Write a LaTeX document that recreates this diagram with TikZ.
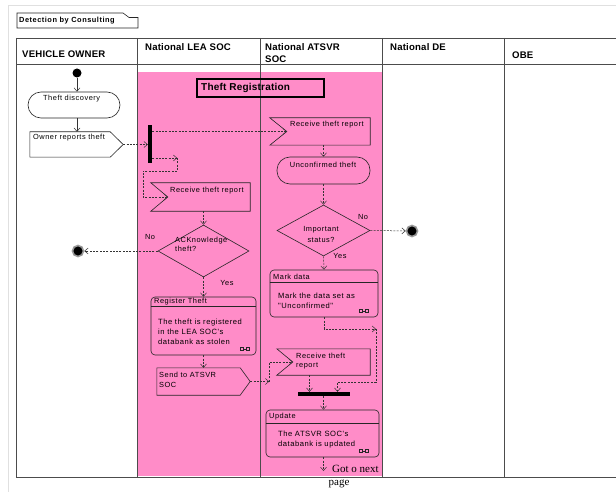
\documentclass[tikz,border=0pt]{standalone}
\usepackage{fontspec}
\setmainfont{Liberation Sans}
\newfontfamily\gotfont{Liberation Serif}
\newfontfamily\lblfont[LetterSpace=7]{Liberation Sans}
\newfontfamily\hdrfont[LetterSpace=2]{Liberation Sans}
\usetikzlibrary{arrows.meta,shapes.geometric,calc}
\definecolor{pinkbg}{RGB}{255,140,200}
\begin{document}
\begin{tikzpicture}[x=1pt,y=-1pt,
  gridline/.style={draw=black!70,line width=0.7pt},
  shp/.style={draw=black!85,line width=0.6pt},
  flow/.style={draw=black!80,line width=0.5pt,dash pattern=on 2pt off 1.3pt,-{Straight Barb[length=3.5pt,width=6pt]}},
  sflow/.style={draw=black!80,line width=0.5pt,-{Straight Barb[length=3.5pt,width=6pt]}},
  lbl/.style={font=\lblfont\fontsize{7.4}{9.5}\selectfont,inner sep=0pt,anchor=west,align=left},
  blbl/.style={font=\lblfont\fontsize{7.6}{10.2}\selectfont,inner sep=0pt,anchor=west,align=left},
  clbl/.style={font=\lblfont\fontsize{7.4}{10.5}\selectfont,inner sep=0pt,align=center},
  hdr/.style={font=\hdrfont\bfseries\fontsize{9.6}{12}\selectfont,inner sep=0pt,anchor=west,align=left},
  stadium/.style={shp,rectangle,rounded corners=13pt,inner sep=0pt},
  action/.style={shp,rectangle,rounded corners=4pt,inner sep=0pt},
  dia/.style={shp,diamond,inner sep=0pt},
  frm/.style={rectangle,inner sep=0pt},
  barnode/.style={rectangle,fill=black,inner sep=0pt},
  startdot/.style={circle,fill=black,minimum size=9pt,inner sep=0pt},
  endnode/.style={circle,fill=black,draw=black!40,line width=1.6pt,minimum size=11pt,inner sep=0pt},
  rakeicon/.pic={\draw[black!85,line width=0.5pt] (-6,-1.5) rectangle (-3,1.5) (-3,0) -- (0,0) (0,-1.5) rectangle (3,1.5);}
]
\useasboundingbox (0,0) rectangle (616,492);
\fill[white] (0,0) rectangle (616,492);
% faint page border
\draw[black!12,line width=0.6pt] (8,492) -- (8,5) -- (616,5);

% title tab
\draw[shp] (17,13) -- (123,13) -- (129,17.5) -- (138,17.5) -- (138,28) -- (17,28) -- cycle;
\node[font=\lblfont\bfseries\fontsize{7.4}{8}\selectfont,inner sep=0pt,anchor=west] (ttl) at (19,20.5) {Detection by Consulting};

% pink partition
\fill[pinkbg] (137,72) rectangle (382,476);

% table
\draw[gridline] (16,38) -- (616,38);
\draw[gridline] (16,64) -- (616,64);
\draw[gridline] (16,477) -- (616,477);
\foreach \xx in {16,137,260,382,504} \draw[gridline] (\xx,38) -- (\xx,477);

\node[hdr] (h1) at (22,54) {VEHICLE OWNER};
\node[hdr] (h2) at (145,47) {National LEA SOC};
\node[hdr] (h3) at (265,53) {National ATSVR\\SOC};
\node[hdr] (h4) at (390,47) {National DE};
\node[hdr] (h5) at (512,55) {OBE};

% Theft registration
\node[draw=black,line width=1.3pt,minimum width=127pt,minimum height=18pt,inner sep=0pt] (treg) at (260.5,88) {};
\node[font=\hdrfont\bfseries\fontsize{10}{11}\selectfont,inner sep=0pt,anchor=west] (tregt) at (201,88) {Theft Registration};

% ---------- VEHICLE OWNER ----------
\node[startdot] (s) at (77,73) {};
\node[stadium,minimum width=92pt,minimum height=26pt] (td) at (74,105) {};
\node[lbl] (tdt) at (43,99) {Theft discovery};
\node[frm,minimum width=93pt,minimum height=25pt] (ort) at (76.5,144.5) {};
\draw[shp] (ort.north west) -- ([xshift=-13pt]ort.north east) -- (ort.east) -- ([xshift=-13pt]ort.south east) -- (ort.south west) -- cycle;
\node[lbl] (ortt) at (33,138) {Owner reports theft};
\draw[sflow] (s) -- (s |- td.north);
\draw[sflow] (td.south -| s) -- (ort.north -| s);

\node[endnode] (e1) at (78,251) {};

% ---------- LEA SOC ----------
\node[barnode,minimum width=4pt,minimum height=38pt] (fork) at (150,144) {};
\draw[flow] (ort.east) -- (ort.east -| fork.west);

\node[frm,minimum width=99pt,minimum height=28pt] (rcv1) at (200.5,197) {};
\coordinate (rcv1n) at ($(rcv1.west)+(17,0)$);
\draw[shp] (rcv1.north west) -- (rcv1.north east) -- (rcv1.south east) -- (rcv1.south west) -- (rcv1n) -- cycle;
\node[lbl] (rcv1t) at (170,191) {Receive theft report};

\draw[flow] ([yshift=-14pt]fork.east) -- ++(25,0);
\draw[flow] ([yshift=-14pt]fork.east) ++(25,0) -- ++(0,13) -| ($(rcv1n)+(-25,0)$) -- (rcv1n);

\node[dia,minimum width=91pt,minimum height=52pt] (d1) at (203.5,251) {};
\node[lbl] (d1t) at (175,244.5) {ACKnowledge\\theft?};
\draw[flow] (rcv1.south -| d1.north) -- (d1.north);
\node[clbl] (no1) at (150,237) {No};
\draw[flow] (d1.west) -- (e1);
\node[clbl] (yes1) at (227,283) {Yes};

\node[action,minimum width=105pt,minimum height=58pt] (reg) at (203.5,326) {};
\draw[shp] ([yshift=-10pt]reg.north west) -- ([yshift=-10pt]reg.north east);
\node[lbl] (regh) at (154,302) {Register Theft};
\node[blbl] (regb) at (158,332) {The theft is registered\\in the LEA SOC's\\databank as stolen};
\pic at (246,349) {rakeicon};
\draw[flow] (d1.south) -- (reg.north);

\node[frm,minimum width=93pt,minimum height=27pt] (send1) at (203.5,381.5) {};
\draw[shp] (send1.north west) -- ([xshift=-10pt]send1.north east) -- (send1.east) -- ([xshift=-10pt]send1.south east) -- (send1.south west) -- cycle;
\node[lbl] (send1t) at (159,380) {Send to ATSVR\\SOC};
\draw[flow] (reg.south) -- (send1.north);

% ---------- ATSVR SOC ----------
\node[frm,minimum width=100pt,minimum height=27pt] (rcv2) at (320,131.5) {};
\coordinate (rcv2n) at ($(rcv2.west)+(17,0)$);
\draw[shp] (rcv2.north west) -- (rcv2.north east) -- (rcv2.south east) -- (rcv2.south west) -- (rcv2n) -- cycle;
\node[lbl] (rcv2t) at (290,125) {Receive theft report};
\draw[flow] (rcv2n -| fork.east) -- (rcv2n);

\node[stadium,minimum width=93pt,minimum height=27pt] (uc) at (323.5,170.5) {};
\node[clbl] (uct) at (323,165) {Unconfirmed theft};
\draw[flow] (rcv2.south -| uc.north) -- (uc.north);

\node[dia,minimum width=93pt,minimum height=51pt] (d2) at (323.5,230.5) {};
\node[clbl] (d2t) at (321,234.5) {Important\\status?};
\draw[flow] (uc.south) -- (d2.north);
\node[clbl] (no2) at (363,217) {No};
\node[endnode] (e2) at (412,231) {};
\draw[flow] (d2.east) -- (e2);
\node[clbl] (yes2) at (340,256) {Yes};

\node[action,minimum width=108pt,minimum height=47pt] (mark) at (324,293.5) {};
\draw[shp] ([yshift=-13pt]mark.north west) -- ([yshift=-13pt]mark.north east);
\node[lbl] (markh) at (273,277) {Mark data};
\node[blbl] (markb) at (278,301) {Mark the data set as\\"Unconfirmed"};
\pic at (365,311) {rakeicon};
\draw[flow] (d2.south) -- (mark.north);

\node[frm,minimum width=93pt,minimum height=26pt] (rcv3) at (323.5,362) {};
\coordinate (rcv3n) at ($(rcv3.west)+(16,0)$);
\draw[shp] (rcv3.north west) -- (rcv3.north east) -- (rcv3.south east) -- (rcv3.south west) -- (rcv3n) -- cycle;
\node[lbl] (rcv3t) at (296,361) {Receive theft\\report};
\draw[flow] (send1.east) -- ++(19,0);
\draw[flow] (send1.east) ++(19,0) |- (rcv3n);

\node[barnode,minimum width=52pt,minimum height=4pt] (jb) at (323.5,394) {};
\draw[flow] ([xshift=-14pt]rcv3.south) -- ([xshift=-14pt]jb.north);
\coordinate (mk) at (376,329);
\draw[flow] (mark.south) |- (mk);
\draw[flow] (mk) |- ([xshift=14pt,yshift=10pt]jb.north) -- ([xshift=14pt]jb.north);

\node[action,minimum width=113pt,minimum height=47pt] (upd) at (322.5,433.5) {};
\draw[shp] ([yshift=-14pt]upd.north west) -- ([yshift=-14pt]upd.north east);
\node[lbl] (updh) at (269,417) {Update};
\node[blbl] (updb) at (278,439.5) {The ATSVR SOC's\\databank is updated};
\pic at (365,451) {rakeicon};
\draw[flow] (jb.south) -- (jb.south |- upd.north);

\coordinate (nxt) at (323.5,471);
\draw[flow] (nxt |- upd.south) -- (nxt);
\node[font=\gotfont\fontsize{11}{12}\selectfont,inner sep=0pt,anchor=west] (got) at (332,469) {Got o next};
\node[font=\gotfont\fontsize{11}{12}\selectfont,inner sep=0pt] (pg) at (339,484) {page};
\end{tikzpicture}
\end{document}
